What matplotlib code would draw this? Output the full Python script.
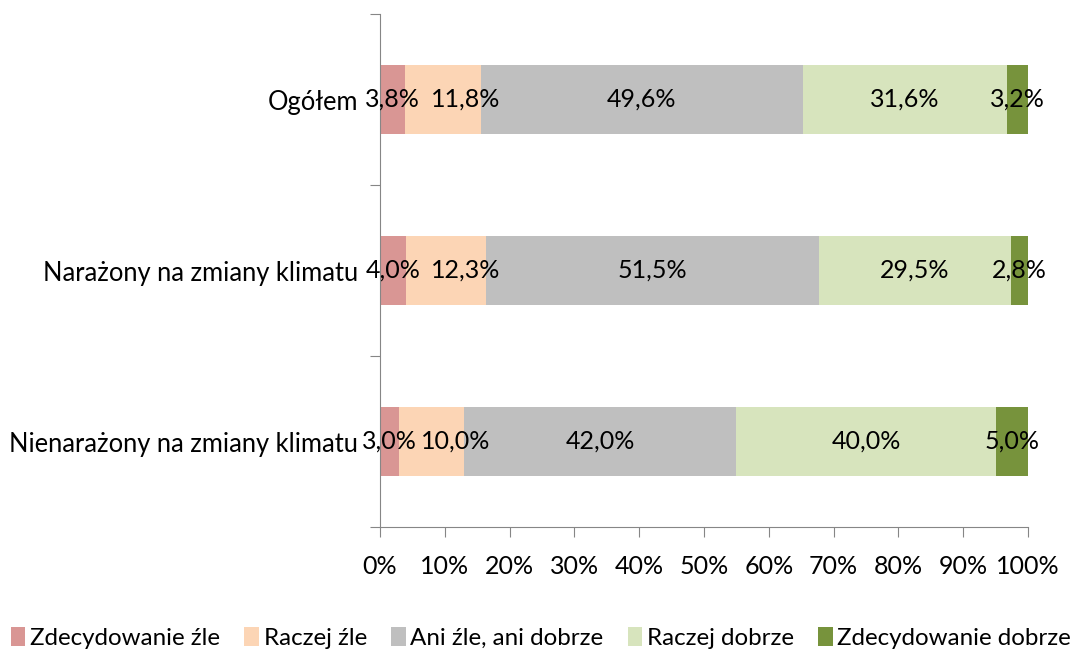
import matplotlib
matplotlib.use('Agg')
import matplotlib.pyplot as plt
from matplotlib.patches import Patch

plt.rcParams['font.family'] = ['Lato', 'DejaVu Sans']

categories = ['Ogółem', 'Narażony na zmiany klimatu', 'Nienarażony na zmiany klimatu']
series_names = ['Zdecydowanie źle', 'Raczej źle', 'Ani źle, ani dobrze', 'Raczej dobrze', 'Zdecydowanie dobrze']
values = [
    [3.8, 4.0, 3.0],
    [11.8, 12.3, 10.0],
    [49.6, 51.5, 42.0],
    [31.6, 29.5, 40.0],
    [3.2, 2.8, 5.0],
]
colors = ['#D99694', '#FCD5B5', '#BFBFBF', '#D7E4BD', '#77933C']
xticks = [0, 10, 20, 30, 40, 50, 60, 70, 80, 90, 100]
# label nudges (x units) so small neighbouring labels don't collide, as in the original
nudges = [
    [0, 0, 0],
    [3.5, 3.1, 3.7],
    [0, 0, 0],
    [0, 0, 0],
    [0, 0, 0],
]

fig = plt.figure(figsize=(10.82, 6.55), dpi=100)
ax = fig.add_axes([0.3512, 0.1954, 0.5989, 0.7832])

ypos = [2, 1, 0]
left = [0, 0, 0]
for name, vals, col, nd in zip(series_names, values, colors, nudges):
    ax.barh(ypos, vals, left=left, height=0.4, color=col, label=name)
    for y, l, v, d in zip(ypos, left, vals, nd):
        ax.text(l + v / 2 + d, y, f'{v:.1f}%'.replace('.', ','), ha='center', va='center',
                fontsize=18, color='black')
    left = [a + b for a, b in zip(left, vals)]

ax.set_xlim(0, 100)
ax.set_ylim(-0.5, 2.5)
ax.set_xticks(xticks)
ax.set_xticklabels([f'{t}%' for t in xticks], fontsize=18)
ax.set_yticks([-0.5, 0.5, 1.5, 2.5])
ax.set_yticklabels([])
ax.set_yticks(ypos, minor=True)
ax.set_yticklabels(categories, minor=True, fontsize=18.4)
ax.tick_params(axis='y', which='minor', length=0, pad=16)
ax.tick_params(axis='y', which='major', length=7, color='#868686')
ax.tick_params(axis='x', length=7, color='#868686', pad=13)

for s in ['top', 'right']:
    ax.spines[s].set_visible(False)
for s in ['left', 'bottom']:
    ax.spines[s].set_color('#868686')

handles = [Patch(facecolor=c) for c in colors]
fig.legend(handles, series_names, loc='center', bbox_to_anchor=(0.5, 0.026), ncol=5,
           frameon=False, fontsize=17.4, handlelength=0.6, handleheight=0.8,
           handletextpad=0.2, columnspacing=1.0)

fig.savefig('out.png', dpi=100)
